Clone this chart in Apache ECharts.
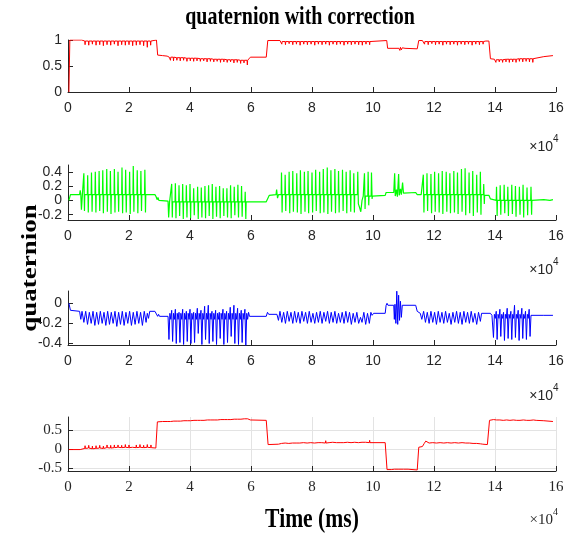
<!DOCTYPE html>
<html>
<head>
<meta charset="utf-8">
<script src="https://cdn.jsdelivr.net/npm/echarts@6.0.0/dist/echarts.min.js"></script>
<style>
  html, body { margin: 0; padding: 0; background: #ffffff; }
  #chart { width: 571px; height: 533px; }
</style>
</head>
<body>
<div id="chart"></div>
<script>
// Time axis is in units of 1e4 ms (shown with the ×10^4 multiplier).
const xTicks = [0, 2, 4, 6, 8, 10, 12, 14, 16];

// Quaternion component q0 (top, red)
const q0 = [
  [0.03,0],[0.05,0],[0.06,1],[0.45,1],[0.5,0.98],
  [0.55,0.98],[0.56,0.91],[0.57,0.98],[0.67,0.98],[0.68,0.90],[0.69,0.98],
  [0.79,0.98],[0.80,0.92],[0.81,0.98],[0.91,0.98],[0.92,0.90],[0.93,0.98],
  [1.03,0.98],[1.04,0.91],[1.05,0.98],[1.15,0.98],[1.16,0.89],[1.17,0.98],
  [1.27,0.98],[1.28,0.91],[1.29,0.98],[1.39,0.98],[1.40,0.90],[1.41,0.98],
  [1.51,0.98],[1.52,0.92],[1.53,0.98],[1.63,0.98],[1.64,0.89],[1.65,0.98],
  [1.75,0.98],[1.76,0.91],[1.77,0.98],[1.87,0.98],[1.88,0.90],[1.89,0.98],
  [1.99,0.98],[2.00,0.91],[2.01,0.98],[2.11,0.98],[2.12,0.89],[2.13,0.98],
  [2.23,0.98],[2.24,0.90],[2.25,0.98],[2.35,0.98],[2.36,0.91],[2.37,0.98],
  [2.47,0.98],[2.48,0.89],[2.49,0.98],[2.59,0.98],[2.60,0.86],[2.61,0.98],
  [2.70,0.98],[2.71,0.90],[2.72,0.98],
  [2.78,0.99],[2.9,1.0],[2.94,0.71],[3.1,0.70],[3.25,0.69],[3.32,0.67],
  [3.35,0.67],[3.36,0.61],[3.37,0.67],[3.45,0.67],[3.46,0.60],[3.47,0.67],
  [3.56,0.66],[3.57,0.61],[3.58,0.66],[3.67,0.66],[3.68,0.60],[3.69,0.66],
  [3.78,0.66],[3.79,0.61],[3.80,0.66],[3.89,0.65],[3.90,0.59],[3.91,0.65],
  [4.00,0.65],[4.01,0.60],[4.02,0.65],[4.11,0.65],[4.12,0.59],[4.13,0.65],
  [4.22,0.65],[4.23,0.60],[4.24,0.65],[4.33,0.64],[4.34,0.59],[4.35,0.64],
  [4.44,0.64],[4.45,0.60],[4.46,0.64],[4.55,0.64],[4.56,0.58],[4.57,0.64],
  [4.66,0.64],[4.67,0.59],[4.68,0.64],[4.77,0.63],[4.78,0.58],[4.79,0.63],
  [4.88,0.63],[4.89,0.59],[4.90,0.63],[4.99,0.63],[5.00,0.57],[5.01,0.63],
  [5.10,0.63],[5.11,0.58],[5.12,0.63],[5.21,0.62],[5.22,0.57],[5.23,0.62],
  [5.32,0.62],[5.33,0.58],[5.34,0.62],[5.43,0.62],[5.44,0.56],[5.45,0.62],
  [5.54,0.62],[5.55,0.57],[5.56,0.62],[5.65,0.61],[5.66,0.55],[5.67,0.61],
  [5.76,0.61],[5.77,0.56],[5.78,0.61],[5.87,0.61],[5.88,0.52],[5.89,0.61],
  [5.95,0.62],[5.98,0.67],[6.5,0.67],[6.55,0.99],[6.95,0.99],
  [7.00,0.97],[7.01,0.92],[7.02,0.97],[7.12,0.97],[7.13,0.91],[7.14,0.97],
  [7.24,0.97],[7.25,0.93],[7.26,0.97],[7.36,0.97],[7.37,0.91],[7.38,0.97],
  [7.48,0.97],[7.49,0.92],[7.50,0.97],[7.60,0.97],[7.61,0.90],[7.62,0.97],
  [7.72,0.97],[7.73,0.92],[7.74,0.97],[7.84,0.97],[7.85,0.91],[7.86,0.97],
  [7.96,0.97],[7.97,0.92],[7.98,0.97],[8.08,0.97],[8.09,0.90],[8.10,0.97],
  [8.20,0.97],[8.21,0.92],[8.22,0.97],[8.32,0.97],[8.33,0.91],[8.34,0.97],
  [8.44,0.97],[8.45,0.92],[8.46,0.97],[8.56,0.97],[8.57,0.90],[8.58,0.97],
  [8.68,0.97],[8.69,0.92],[8.70,0.97],[8.80,0.97],[8.81,0.91],[8.82,0.97],
  [8.92,0.97],[8.93,0.92],[8.94,0.97],[9.04,0.97],[9.05,0.90],[9.06,0.97],
  [9.16,0.97],[9.17,0.92],[9.18,0.97],[9.28,0.97],[9.29,0.91],[9.30,0.97],
  [9.40,0.97],[9.41,0.92],[9.42,0.97],[9.52,0.97],[9.53,0.91],[9.54,0.97],
  [9.64,0.97],[9.65,0.90],[9.66,0.97],[9.76,0.97],[9.77,0.92],[9.78,0.97],
  [9.88,0.97],[9.89,0.91],[9.90,0.97],
  [9.95,0.99],[10.45,0.99],[10.48,0.84],[10.85,0.84],[10.88,0.80],[10.9,0.86],
  [10.93,0.81],[10.96,0.85],[11.0,0.82],[11.05,0.84],[11.1,0.83],[11.45,0.83],
  [11.5,0.99],[11.62,0.99],
  [11.68,0.97],[11.69,0.92],[11.70,0.97],[11.80,0.97],[11.81,0.91],[11.82,0.97],
  [11.92,0.97],[11.93,0.93],[11.94,0.97],[12.04,0.97],[12.05,0.91],[12.06,0.97],
  [12.16,0.97],[12.17,0.92],[12.18,0.97],[12.28,0.97],[12.29,0.90],[12.30,0.97],
  [12.40,0.97],[12.41,0.92],[12.42,0.97],[12.52,0.97],[12.53,0.91],[12.54,0.97],
  [12.64,0.97],[12.65,0.92],[12.66,0.97],[12.76,0.97],[12.77,0.90],[12.78,0.97],
  [12.88,0.97],[12.89,0.92],[12.90,0.97],[13.00,0.97],[13.01,0.91],[13.02,0.97],
  [13.12,0.97],[13.13,0.92],[13.14,0.97],[13.24,0.97],[13.25,0.90],[13.26,0.97],
  [13.36,0.97],[13.37,0.92],[13.38,0.97],[13.48,0.97],[13.49,0.91],[13.50,0.97],
  [13.60,0.97],[13.61,0.92],[13.62,0.97],
  [13.7,0.98],[13.8,0.98],[13.85,0.64],[13.98,0.63],
  [14.02,0.62],[14.03,0.57],[14.04,0.62],[14.13,0.62],[14.14,0.58],[14.15,0.62],
  [14.24,0.62],[14.25,0.57],[14.26,0.62],[14.35,0.63],[14.36,0.58],[14.37,0.63],
  [14.46,0.63],[14.47,0.57],[14.48,0.63],[14.57,0.63],[14.58,0.58],[14.59,0.63],
  [14.68,0.63],[14.69,0.57],[14.70,0.63],[14.79,0.64],[14.80,0.59],[14.81,0.64],
  [14.90,0.64],[14.91,0.58],[14.92,0.64],[15.01,0.64],[15.02,0.59],[15.03,0.64],
  [15.12,0.64],[15.13,0.58],[15.14,0.64],[15.23,0.64],[15.24,0.57],[15.25,0.64],
  [15.28,0.66],[15.6,0.68],[15.9,0.70]
];

// Quaternion component q1 (green)
const q1 = [
  [0.03,0.0],[0.08,0.08],[0.38,0.08],[0.40,0.14],[0.42,0.08],[0.44,-0.13],[0.47,0.07],[0.50,0.08],
  [0.51,0.08],[0.52,0.38],[0.54,-0.15],[0.55,0.08],
  [0.635,0.08],[0.645,0.35],[0.665,-0.17],[0.675,0.08],
  [0.76,0.08],[0.77,0.39],[0.79,-0.16],[0.80,0.08],
  [0.885,0.08],[0.895,0.40],[0.915,-0.17],[0.925,0.08],
  [1.01,0.08],[1.02,0.41],[1.04,-0.15],[1.05,0.08],
  [1.13,0.08],[1.14,0.42],[1.16,-0.18],[1.17,0.08],
  [1.26,0.08],[1.27,0.44],[1.29,-0.16],[1.30,0.08],
  [1.38,0.08],[1.39,0.41],[1.41,-0.19],[1.42,0.08],
  [1.51,0.08],[1.52,0.44],[1.54,-0.17],[1.55,0.08],
  [1.63,0.08],[1.64,0.40],[1.66,-0.16],[1.67,0.08],
  [1.76,0.08],[1.77,0.46],[1.79,-0.18],[1.80,0.08],
  [1.88,0.08],[1.89,0.43],[1.91,-0.17],[1.92,0.08],
  [2.01,0.08],[2.02,0.40],[2.04,-0.19],[2.05,0.08],
  [2.13,0.08],[2.14,0.48],[2.16,-0.16],[2.17,0.08],
  [2.26,0.08],[2.27,0.42],[2.29,-0.18],[2.30,0.08],
  [2.38,0.08],[2.39,0.41],[2.41,-0.15],[2.42,0.08],
  [2.51,0.08],[2.52,0.43],[2.54,-0.17],[2.55,0.08],
  [2.85,0.08],[2.89,0.05],[2.92,0.01],[2.95,0.04],[2.98,0.0],[3.28,-0.01],[3.30,-0.24],[3.33,-0.02],
  [3.39,-0.02],[3.40,0.23],[3.42,-0.24],[3.43,-0.02],
  [3.51,-0.02],[3.52,0.24],[3.54,-0.25],[3.55,-0.02],
  [3.63,-0.02],[3.64,0.21],[3.66,-0.22],[3.67,-0.02],
  [3.75,-0.02],[3.76,0.23],[3.78,-0.26],[3.79,-0.02],
  [3.87,-0.02],[3.88,0.21],[3.90,-0.24],[3.91,-0.02],
  [3.99,-0.02],[4.00,0.23],[4.02,-0.25],[4.03,-0.02],
  [4.11,-0.02],[4.12,0.17],[4.14,-0.21],[4.15,-0.02],
  [4.24,-0.02],[4.25,0.19],[4.27,-0.26],[4.28,-0.02],
  [4.36,-0.02],[4.37,0.18],[4.39,-0.24],[4.40,-0.02],
  [4.48,-0.02],[4.49,0.20],[4.51,-0.25],[4.52,-0.02],
  [4.60,-0.02],[4.61,0.21],[4.63,-0.22],[4.64,-0.02],
  [4.72,-0.02],[4.73,0.23],[4.75,-0.26],[4.76,-0.02],
  [4.84,-0.02],[4.85,0.19],[4.87,-0.23],[4.88,-0.02],
  [4.96,-0.02],[4.97,0.20],[4.99,-0.25],[5.00,-0.02],
  [5.08,-0.02],[5.09,0.17],[5.11,-0.22],[5.12,-0.02],
  [5.20,-0.02],[5.21,0.17],[5.23,-0.24],[5.24,-0.02],
  [5.32,-0.02],[5.33,0.21],[5.35,-0.25],[5.36,-0.02],
  [5.44,-0.02],[5.45,0.19],[5.47,-0.21],[5.48,-0.02],
  [5.56,-0.02],[5.57,0.22],[5.59,-0.24],[5.60,-0.02],
  [5.68,-0.02],[5.69,0.20],[5.71,-0.23],[5.72,-0.02],
  [5.80,-0.02],[5.81,0.12],[5.83,-0.26],[5.84,-0.02],
  [6.5,-0.02],[6.6,0.07],[6.82,0.08],[6.84,0.15],[6.87,0.03],[6.90,0.08],
  [6.99,0.08],[7.00,0.39],[7.02,-0.17],[7.03,0.08],
  [7.11,0.08],[7.12,0.36],[7.14,-0.15],[7.15,0.08],
  [7.24,0.08],[7.25,0.40],[7.27,-0.18],[7.28,0.08],
  [7.36,0.08],[7.37,0.41],[7.39,-0.16],[7.40,0.08],
  [7.49,0.08],[7.50,0.38],[7.52,-0.17],[7.53,0.08],
  [7.61,0.08],[7.62,0.42],[7.64,-0.19],[7.65,0.08],
  [7.74,0.08],[7.75,0.40],[7.77,-0.16],[7.78,0.08],
  [7.86,0.08],[7.87,0.41],[7.89,-0.18],[7.90,0.08],
  [7.99,0.08],[8.00,0.39],[8.02,-0.17],[8.03,0.08],
  [8.11,0.08],[8.12,0.43],[8.14,-0.15],[8.15,0.08],
  [8.24,0.08],[8.25,0.40],[8.27,-0.18],[8.28,0.08],
  [8.36,0.08],[8.37,0.44],[8.39,-0.17],[8.40,0.08],
  [8.49,0.08],[8.50,0.46],[8.52,-0.19],[8.53,0.08],
  [8.61,0.08],[8.62,0.42],[8.64,-0.16],[8.65,0.08],
  [8.74,0.08],[8.75,0.44],[8.77,-0.18],[8.78,0.08],
  [8.86,0.08],[8.87,0.41],[8.89,-0.17],[8.90,0.08],
  [8.99,0.08],[9.00,0.43],[9.02,-0.15],[9.03,0.08],
  [9.11,0.08],[9.12,0.40],[9.14,-0.18],[9.15,0.08],
  [9.24,0.08],[9.25,0.42],[9.27,-0.16],[9.28,0.08],
  [9.36,0.08],[9.37,0.38],[9.39,-0.17],[9.40,0.08],
  [9.49,0.08],[9.50,0.40],[9.52,-0.05],[9.56,-0.10],[9.60,-0.16],[9.64,0.0],[9.68,0.06],
  [9.71,0.06],[9.72,0.38],[9.74,-0.12],[9.75,0.06],
  [9.83,0.06],[9.84,0.40],[9.86,-0.07],[9.87,0.06],
  [9.94,0.06],[9.95,0.39],[9.97,0.02],[9.98,0.06],[10.02,0.06],
  [10.4,0.07],[10.43,0.11],[10.68,0.11],[10.71,0.38],[10.73,0.06],[10.77,0.15],[10.80,0.05],
  [10.84,0.37],[10.86,0.07],[10.90,0.16],[10.93,0.08],[10.97,0.25],[11.00,0.10],[11.05,0.11],
  [11.40,0.11],[11.45,0.08],[11.58,0.08],
  [11.64,0.08],[11.65,0.36],[11.67,-0.17],[11.68,0.08],
  [11.76,0.08],[11.77,0.38],[11.79,-0.15],[11.80,0.08],
  [11.89,0.08],[11.90,0.37],[11.92,-0.18],[11.93,0.08],
  [12.01,0.08],[12.02,0.40],[12.04,-0.16],[12.05,0.08],
  [12.14,0.08],[12.15,0.38],[12.17,-0.17],[12.18,0.08],
  [12.26,0.08],[12.27,0.41],[12.29,-0.19],[12.30,0.08],
  [12.39,0.08],[12.40,0.40],[12.42,-0.16],[12.43,0.08],
  [12.51,0.08],[12.52,0.38],[12.54,-0.18],[12.55,0.08],
  [12.64,0.08],[12.65,0.41],[12.67,-0.17],[12.68,0.08],
  [12.76,0.08],[12.77,0.39],[12.79,-0.19],[12.80,0.08],
  [12.89,0.08],[12.90,0.44],[12.92,-0.16],[12.93,0.08],
  [13.01,0.08],[13.02,0.45],[13.04,-0.21],[13.05,0.08],
  [13.14,0.08],[13.15,0.39],[13.17,-0.18],[13.18,0.08],
  [13.26,0.08],[13.27,0.41],[13.29,-0.22],[13.30,0.08],
  [13.39,0.08],[13.40,0.36],[13.42,-0.17],[13.43,0.08],
  [13.51,0.08],[13.52,0.40],[13.54,-0.20],[13.55,0.08],
  [13.62,0.08],[13.63,0.23],[13.65,-0.05],[13.66,0.07],
  [13.8,0.07],[13.85,0.02],[13.9,0.0],
  [14.04,0.0],[14.05,0.19],[14.07,-0.22],[14.08,0.0],
  [14.16,0.0],[14.17,0.21],[14.19,-0.20],[14.20,0.0],
  [14.29,0.0],[14.30,0.22],[14.32,-0.18],[14.33,0.0],
  [14.41,0.0],[14.42,0.19],[14.44,-0.22],[14.45,0.0],
  [14.54,0.0],[14.55,0.22],[14.57,-0.19],[14.58,0.0],
  [14.66,0.0],[14.67,0.20],[14.69,-0.23],[14.70,0.0],
  [14.79,0.0],[14.80,0.19],[14.82,-0.20],[14.83,0.0],
  [14.91,0.0],[14.92,0.22],[14.94,-0.24],[14.95,0.0],
  [15.04,0.0],[15.05,0.18],[15.07,-0.21],[15.08,0.0],
  [15.17,0.0],[15.18,0.19],[15.20,-0.20],[15.21,0.0],
  [15.6,0.01],[15.8,0.0],[15.9,0.01]
];

// Quaternion component q2 (blue)
const q2 = [
  [0.03,0.0],[0.08,-0.07],[0.38,-0.08],
  [0.42,-0.16],[0.46,-0.08],[0.52,-0.19],[0.58,-0.08],[0.64,-0.21],[0.70,-0.09],[0.76,-0.20],
  [0.82,-0.08],[0.88,-0.22],[0.94,-0.09],[1.00,-0.21],[1.06,-0.08],[1.12,-0.20],[1.18,-0.09],
  [1.24,-0.22],[1.30,-0.08],[1.36,-0.21],[1.42,-0.09],[1.48,-0.20],[1.54,-0.08],[1.60,-0.23],
  [1.66,-0.09],[1.72,-0.21],[1.78,-0.08],[1.84,-0.22],[1.90,-0.09],[1.96,-0.20],[2.02,-0.08],
  [2.08,-0.22],[2.14,-0.09],[2.20,-0.21],[2.26,-0.08],[2.32,-0.20],[2.38,-0.09],[2.44,-0.22],
  [2.50,-0.08],[2.56,-0.19],[2.60,-0.10],[2.64,-0.15],[2.68,-0.08],
  [2.85,-0.08],[2.90,-0.09],[2.94,-0.13],[2.97,-0.11],[3.00,-0.13],[3.28,-0.13],
  [3.31,-0.36],[3.34,-0.10],[3.37,-0.16],[3.40,-0.07],
  [3.43,-0.38],[3.46,-0.10],[3.49,-0.16],[3.52,-0.06],
  [3.55,-0.40],[3.58,-0.10],[3.61,-0.16],[3.64,-0.09],
  [3.67,-0.39],[3.70,-0.10],[3.73,-0.16],[3.76,-0.06],
  [3.79,-0.41],[3.82,-0.10],[3.85,-0.16],[3.88,-0.08],
  [3.91,-0.38],[3.94,-0.10],[3.97,-0.16],[4.00,-0.06],
  [4.03,-0.40],[4.06,-0.10],[4.09,-0.16],[4.12,-0.09],
  [4.15,-0.39],[4.18,-0.10],[4.21,-0.16],[4.24,-0.05],
  [4.27,-0.30],[4.30,-0.10],[4.33,-0.16],[4.36,-0.07],
  [4.39,-0.41],[4.42,-0.10],[4.45,-0.16],[4.48,-0.03],
  [4.51,-0.36],[4.54,-0.10],[4.57,-0.16],[4.60,-0.02],
  [4.63,-0.40],[4.66,-0.10],[4.69,-0.16],[4.72,-0.08],
  [4.75,-0.38],[4.78,-0.10],[4.81,-0.16],[4.84,-0.07],
  [4.87,-0.41],[4.90,-0.10],[4.93,-0.16],[4.96,-0.09],
  [4.99,-0.35],[5.02,-0.10],[5.05,-0.16],[5.08,-0.06],
  [5.11,-0.41],[5.14,-0.10],[5.17,-0.16],[5.20,-0.08],
  [5.23,-0.39],[5.26,-0.10],[5.29,-0.16],[5.32,-0.04],
  [5.35,-0.33],[5.38,-0.10],[5.41,-0.16],[5.44,-0.02],
  [5.47,-0.40],[5.50,-0.10],[5.53,-0.16],[5.56,-0.05],
  [5.59,-0.41],[5.62,-0.10],[5.65,-0.16],[5.68,-0.07],
  [5.71,-0.39],[5.74,-0.10],[5.77,-0.16],[5.80,-0.06],
  [5.83,-0.42],[5.86,-0.10],[5.89,-0.16],[5.92,-0.09],
  [5.95,-0.13],[6.50,-0.13],[6.54,-0.09],[6.58,-0.11],[6.85,-0.11],
  [6.90,-0.17],[6.95,-0.08],[7.01,-0.19],[7.07,-0.09],[7.13,-0.20],[7.19,-0.08],[7.25,-0.18],
  [7.31,-0.09],[7.37,-0.20],[7.43,-0.08],[7.49,-0.19],[7.55,-0.09],[7.61,-0.20],[7.67,-0.08],
  [7.73,-0.18],[7.79,-0.09],[7.85,-0.20],[7.91,-0.08],[7.97,-0.19],[8.03,-0.10],[8.09,-0.20],
  [8.15,-0.09],[8.21,-0.19],[8.27,-0.08],[8.33,-0.20],[8.39,-0.09],[8.45,-0.18],[8.51,-0.08],
  [8.57,-0.20],[8.63,-0.09],[8.69,-0.19],[8.75,-0.08],[8.81,-0.20],[8.87,-0.10],[8.93,-0.19],
  [8.99,-0.09],[9.05,-0.20],[9.11,-0.08],[9.17,-0.19],[9.23,-0.09],[9.29,-0.21],[9.35,-0.10],
  [9.41,-0.19],[9.47,-0.09],[9.53,-0.20],[9.59,-0.14],[9.64,-0.19],[9.70,-0.09],[9.76,-0.21],
  [9.82,-0.10],[9.88,-0.20],[9.93,-0.09],[9.97,-0.12],
  [10.02,-0.10],[10.40,-0.10],[10.43,-0.02],[10.46,0.0],[10.49,-0.02],[10.68,-0.02],
  [10.70,-0.16],[10.72,-0.01],[10.75,-0.20],[10.78,0.12],[10.81,-0.21],[10.84,0.08],
  [10.87,-0.17],[10.90,0.02],[10.93,-0.14],[10.96,-0.02],[11.40,-0.02],[11.45,-0.08],[11.55,-0.10],
  [11.60,-0.16],[11.66,-0.08],[11.72,-0.19],[11.78,-0.09],[11.84,-0.20],[11.90,-0.08],[11.96,-0.19],
  [12.02,-0.09],[12.08,-0.21],[12.14,-0.08],[12.20,-0.19],[12.26,-0.09],[12.32,-0.20],[12.38,-0.08],
  [12.44,-0.19],[12.50,-0.10],[12.56,-0.21],[12.62,-0.09],[12.68,-0.19],[12.74,-0.08],[12.80,-0.20],
  [12.86,-0.09],[12.92,-0.21],[12.98,-0.08],[13.04,-0.19],[13.10,-0.09],[13.16,-0.20],[13.22,-0.08],
  [13.28,-0.19],[13.34,-0.10],[13.40,-0.21],[13.46,-0.09],[13.52,-0.18],[13.56,-0.10],
  [13.85,-0.10],[13.90,-0.12],
  [13.95,-0.34],[13.98,-0.11],[14.01,-0.15],[14.04,-0.08],
  [14.07,-0.36],[14.10,-0.11],[14.13,-0.15],[14.16,-0.06],
  [14.19,-0.33],[14.22,-0.11],[14.25,-0.15],[14.28,-0.09],
  [14.31,-0.37],[14.34,-0.11],[14.37,-0.15],[14.40,-0.05],
  [14.43,-0.35],[14.46,-0.11],[14.49,-0.15],[14.52,-0.08],
  [14.55,-0.36],[14.58,-0.11],[14.61,-0.15],[14.64,-0.02],
  [14.67,-0.34],[14.70,-0.11],[14.73,-0.15],[14.76,-0.07],
  [14.79,-0.37],[14.82,-0.11],[14.85,-0.15],[14.88,-0.05],
  [14.91,-0.35],[14.94,-0.11],[14.97,-0.15],[15.00,-0.08],
  [15.03,-0.36],[15.06,-0.11],[15.09,-0.15],[15.12,-0.06],
  [15.15,-0.33],[15.18,-0.12],[15.22,-0.12],[15.60,-0.12],[15.90,-0.12]
];

// Quaternion component q3 (bottom, red)
const q3 = [
  [0.03,-0.01],[0.40,-0.01],[0.45,0.01],
  [0.55,0.02],[0.56,0.09],[0.57,0.02],[0.67,0.03],[0.68,0.10],[0.69,0.03],
  [0.79,0.01],[0.80,0.08],[0.81,0.01],[0.91,0.02],[0.92,0.09],[0.93,0.02],
  [1.03,0.03],[1.04,0.10],[1.05,0.03],[1.15,0.02],[1.16,0.08],[1.17,0.02],
  [1.27,0.04],[1.28,0.11],[1.29,0.04],[1.39,0.03],[1.40,0.10],[1.41,0.03],
  [1.51,0.04],[1.52,0.11],[1.53,0.04],[1.63,0.05],[1.64,0.11],[1.65,0.05],
  [1.75,0.04],[1.76,0.10],[1.77,0.04],[1.87,0.05],[1.88,0.12],[1.89,0.05],
  [1.99,0.04],[2.00,0.11],[2.01,0.04],[2.11,0.05],[2.12,0.10],[2.13,0.05],
  [2.23,0.04],[2.24,0.11],[2.25,0.04],[2.35,0.05],[2.36,0.12],[2.37,0.05],
  [2.47,0.04],[2.48,0.10],[2.49,0.04],[2.59,0.05],[2.60,0.12],[2.61,0.05],
  [2.71,0.04],[2.72,0.11],[2.73,0.04],
  [2.78,0.03],[2.88,0.03],[2.93,0.71],[3.10,0.72],
  [3.25,0.72],[3.26,0.76],[3.27,0.72],[3.36,0.72],[3.37,0.77],[3.38,0.72],
  [3.47,0.73],[3.48,0.77],[3.49,0.73],[3.58,0.73],[3.59,0.78],[3.60,0.73],
  [3.69,0.73],[3.70,0.77],[3.71,0.73],[3.80,0.74],[3.81,0.78],[3.82,0.74],
  [3.91,0.74],[3.92,0.79],[3.93,0.74],[4.02,0.74],[4.03,0.78],[4.04,0.74],
  [4.13,0.75],[4.14,0.79],[4.15,0.75],[4.24,0.75],[4.25,0.79],[4.26,0.75],
  [4.35,0.75],[4.36,0.80],[4.37,0.75],[4.46,0.75],[4.47,0.79],[4.48,0.75],
  [4.57,0.76],[4.58,0.80],[4.59,0.76],[4.68,0.76],[4.69,0.80],[4.70,0.76],
  [4.79,0.76],[4.80,0.81],[4.81,0.76],[4.90,0.76],[4.91,0.80],[4.92,0.76],
  [5.01,0.77],[5.02,0.81],[5.03,0.77],[5.12,0.77],[5.13,0.81],[5.14,0.77],
  [5.23,0.77],[5.24,0.82],[5.25,0.77],[5.34,0.77],[5.35,0.81],[5.36,0.77],
  [5.45,0.78],[5.46,0.82],[5.47,0.78],[5.56,0.78],[5.57,0.82],[5.58,0.78],
  [5.67,0.78],[5.68,0.83],[5.69,0.78],[5.78,0.79],[5.79,0.83],[5.80,0.79],
  [5.89,0.79],[5.90,0.82],[5.91,0.79],
  [5.98,0.76],[6.50,0.75],[6.56,0.12],[6.90,0.13],
  [7.00,0.15],[7.01,0.20],[7.02,0.15],[7.12,0.16],[7.13,0.21],[7.14,0.16],
  [7.24,0.15],[7.25,0.20],[7.26,0.15],[7.36,0.16],[7.37,0.21],[7.38,0.16],
  [7.48,0.16],[7.49,0.20],[7.50,0.16],[7.60,0.16],[7.61,0.21],[7.62,0.16],
  [7.72,0.17],[7.73,0.22],[7.74,0.17],[7.84,0.16],[7.85,0.21],[7.86,0.16],
  [7.96,0.17],[7.97,0.22],[7.98,0.17],[8.08,0.16],[8.09,0.20],[8.10,0.16],
  [8.20,0.17],[8.21,0.22],[8.22,0.17],[8.32,0.17],[8.33,0.21],[8.34,0.17],
  [8.44,0.16],[8.45,0.22],[8.46,0.16],[8.56,0.17],[8.57,0.21],[8.58,0.17],
  [8.68,0.18],[8.69,0.23],[8.70,0.18],[8.80,0.17],[8.81,0.22],[8.82,0.17],
  [8.92,0.17],[8.93,0.21],[8.94,0.17],[9.04,0.17],[9.05,0.22],[9.06,0.17],
  [9.16,0.18],[9.17,0.22],[9.18,0.18],[9.28,0.17],[9.29,0.21],[9.30,0.17],
  [9.40,0.18],[9.41,0.23],[9.42,0.18],[9.52,0.17],[9.53,0.22],[9.54,0.17],
  [9.64,0.18],[9.65,0.23],[9.66,0.18],[9.76,0.18],[9.77,0.22],[9.78,0.18],
  [9.88,0.17],[9.89,0.23],[9.90,0.17],
  [9.95,0.18],[10.40,0.17],[10.46,-0.53],[10.60,-0.53],[10.70,-0.52],[10.72,-0.47],[10.74,-0.53],
  [10.85,-0.52],[10.87,-0.48],[10.89,-0.53],[11.00,-0.52],[11.02,-0.47],[11.04,-0.53],
  [11.15,-0.52],[11.17,-0.48],[11.19,-0.53],[11.45,-0.54],[11.50,0.05],[11.62,0.07],[11.68,0.15],
  [11.72,0.16],[11.73,0.21],[11.74,0.16],[11.84,0.16],[11.85,0.20],[11.86,0.16],
  [11.96,0.17],[11.97,0.21],[11.98,0.17],[12.08,0.16],[12.09,0.21],[12.10,0.16],
  [12.20,0.17],[12.21,0.20],[12.22,0.17],[12.32,0.16],[12.33,0.21],[12.34,0.16],
  [12.44,0.17],[12.45,0.22],[12.46,0.17],[12.56,0.16],[12.57,0.21],[12.58,0.16],
  [12.68,0.17],[12.69,0.21],[12.70,0.17],[12.80,0.16],[12.81,0.20],[12.82,0.16],
  [12.92,0.17],[12.93,0.21],[12.94,0.17],[13.04,0.16],[13.05,0.21],[13.06,0.16],
  [13.16,0.16],[13.17,0.20],[13.18,0.16],[13.28,0.15],[13.29,0.20],[13.30,0.15],
  [13.40,0.15],[13.41,0.20],[13.42,0.15],[13.52,0.14],[13.53,0.19],[13.54,0.14],
  [13.60,0.13],[13.75,0.12],[13.82,0.75],[13.95,0.77],
  [14.05,0.76],[14.06,0.80],[14.07,0.76],[14.16,0.76],[14.17,0.79],[14.18,0.76],
  [14.27,0.75],[14.28,0.79],[14.29,0.75],[14.38,0.76],[14.39,0.80],[14.40,0.76],
  [14.49,0.75],[14.50,0.79],[14.51,0.75],[14.60,0.76],[14.61,0.80],[14.62,0.76],
  [14.71,0.75],[14.72,0.78],[14.73,0.75],[14.82,0.75],[14.83,0.79],[14.84,0.75],
  [14.93,0.76],[14.94,0.80],[14.95,0.76],[15.04,0.75],[15.05,0.79],[15.06,0.75],
  [15.15,0.75],[15.16,0.80],[15.17,0.75],[15.26,0.76],[15.27,0.80],[15.28,0.76],
  [15.35,0.75],[15.60,0.74],[15.90,0.72]
];

// y-axis tick values for each panel
const q0Ticks = [0, 0.5, 1];
const q1Ticks = [-0.2, 0, 0.2, 0.4];
const q2Ticks = [-0.4, -0.2, 0];
const q3Ticks = [-0.5, 0, 0.5];

const axisColor = '#262626';
const sans = 'Liberation Sans, Arial, sans-serif';
const serif = 'Liberation Serif, Times New Roman, serif';

const panels = [
  { data: q0, color: '#ff0000', width: 1,   top: 40,  height: 52, min: 0,      max: 1,     ticks: q0Ticks, font: sans,  grid: false },
  { data: q1, color: '#00ff00', width: 1.2, top: 165, height: 55, min: -0.275, max: 0.495, ticks: q1Ticks, font: sans,  grid: false },
  { data: q2, color: '#0000ff', width: 1,   top: 291, height: 54, min: -0.415, max: 0.122, ticks: q2Ticks, font: sans,  grid: false },
  { data: q3, color: '#ff0000', width: 1,   top: 417, height: 54, min: -0.567, max: 0.837, ticks: q3Ticks, font: serif, grid: true }
];

const chart = echarts.init(document.getElementById('chart'), null, { renderer: 'canvas' });

const option = {
  animation: false,
  backgroundColor: '#ffffff',
  grid: panels.map(p => ({ left: 68, right: 15, top: p.top, height: p.height, containLabel: false })),
  xAxis: panels.map((p, i) => ({
    type: 'value', gridIndex: i, min: xTicks[0], max: xTicks[xTicks.length - 1], interval: 2,
    axisLine: { show: true, onZero: false, lineStyle: { color: axisColor, width: 1 } },
    axisTick: { show: true, inside: true, length: 5, lineStyle: { color: axisColor } },
    axisLabel: { show: true, color: axisColor, fontSize: p.grid ? 15 : 14, fontFamily: p.font, margin: 9 },
    splitLine: { show: p.grid, lineStyle: { color: '#e3e3e3', width: 1 } }
  })),
  yAxis: panels.map((p, i) => ({
    type: 'value', gridIndex: i, min: p.min, max: p.max,
    axisLine: { show: true, onZero: false, lineStyle: { color: axisColor, width: 1 } },
    axisTick: { show: true, inside: true, length: 5, customValues: p.ticks, lineStyle: { color: axisColor } },
    axisLabel: { show: true, color: axisColor, fontSize: p.grid ? 15 : 14, fontFamily: p.font, margin: 6, customValues: p.ticks },
    splitLine: { show: p.grid, lineStyle: { color: '#e3e3e3', width: 1 } }
  })),
  series: panels.map((p, i) => ({
    type: 'line', xAxisIndex: i, yAxisIndex: i, data: p.data,
    symbol: 'none', showSymbol: false, clip: true,
    lineStyle: { color: p.color, width: p.width }
  })),
  graphic: [
    { type: 'text', x: 300, y: 18, scaleX: 0.8,
      style: { text: 'quaternion with correction', font: 'bold 25px ' + serif, fill: '#000', textAlign: 'center', textVerticalAlign: 'middle' } },
    { type: 'text', x: 30, y: 268, rotation: Math.PI / 2, scaleY: 0.8,
      style: { text: 'quaternion', font: 'bold 27px ' + serif, fill: '#000', textAlign: 'center', textVerticalAlign: 'middle' } },
    { type: 'text', x: 312, y: 520, scaleX: 0.8,
      style: { text: 'Time (ms)', font: 'bold 27px ' + serif, fill: '#000', textAlign: 'center', textVerticalAlign: 'middle' } },
    // ×10^4 multipliers under each time axis
    { type: 'text', x: 553, y: 147, style: { text: '×10', font: '14px ' + sans, fill: axisColor, textAlign: 'right', textVerticalAlign: 'middle' } },
    { type: 'text', x: 553, y: 139, style: { text: '4', font: '10px ' + sans, fill: axisColor, textAlign: 'left', textVerticalAlign: 'middle' } },
    { type: 'text', x: 553, y: 270, style: { text: '×10', font: '14px ' + sans, fill: axisColor, textAlign: 'right', textVerticalAlign: 'middle' } },
    { type: 'text', x: 553, y: 262, style: { text: '4', font: '10px ' + sans, fill: axisColor, textAlign: 'left', textVerticalAlign: 'middle' } },
    { type: 'text', x: 553, y: 396, style: { text: '×10', font: '14px ' + sans, fill: axisColor, textAlign: 'right', textVerticalAlign: 'middle' } },
    { type: 'text', x: 553, y: 388, style: { text: '4', font: '10px ' + sans, fill: axisColor, textAlign: 'left', textVerticalAlign: 'middle' } },
    { type: 'text', x: 553, y: 520, style: { text: '×10', font: '15px ' + serif, fill: axisColor, textAlign: 'right', textVerticalAlign: 'middle' } },
    { type: 'text', x: 553, y: 512, style: { text: '4', font: '10px ' + serif, fill: axisColor, textAlign: 'left', textVerticalAlign: 'middle' } }
  ]
};

chart.setOption(option);
</script>
</body>
</html>
